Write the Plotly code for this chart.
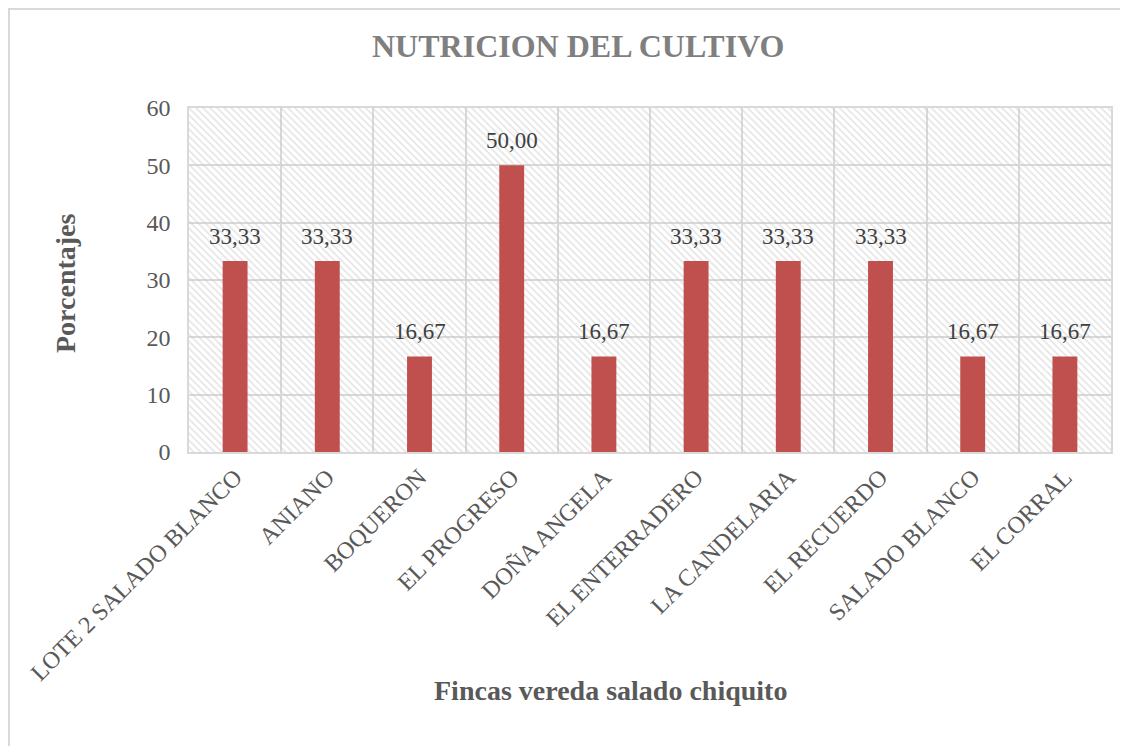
import plotly.graph_objects as go

categories = ["LOTE 2 SALADO BLANCO", "ANIANO", "BOQUERON", "EL PROGRESO", "DOÑA ANGELA",
              "EL ENTERRADERO", "LA CANDELARIA", "EL RECUERDO", "SALADO BLANCO", "EL CORRAL"]
values = [33.33, 33.33, 16.67, 50.00, 16.67, 33.33, 33.33, 33.33, 16.67, 16.67]
y_max = 60
title_text = "NUTRICION DEL CULTIVO"
x_title = "Fincas vereda salado chiquito"
y_title = "Porcentajes"

FONT = "Liberation Serif"
OFF = 8  # page body margin
W, H = 1120, 738
L, R, T, B = 181, 17, 100, 294
pw, ph = W - L - R, H - T - B

def px(x):
    return (x - OFF - L) / pw

def py(y):
    return (H - B - (y - OFF)) / ph

fig = go.Figure()
# hatched plot background
fig.add_trace(go.Bar(
    x=categories, y=[y_max] * len(categories), width=1,
    marker=dict(color="rgba(0,0,0,0)", line=dict(width=0),
                pattern=dict(shape="\\", fgcolor="#c8c8c8", bgcolor="rgba(0,0,0,0)",
                             size=5, solidity=0.3)),
    hoverinfo="skip", showlegend=False))
fig.add_trace(go.Bar(
    x=categories, y=values, width=0.27,
    marker=dict(color="#C0504D", line=dict(width=0)),
    showlegend=False))

annotations = [
    dict(x=c, y=v, xref="x", yref="y", text=f"{v:.2f}".replace(".", ","),
         showarrow=False, xanchor="center", yanchor="bottom", yshift=10,
         font=dict(family=FONT, size=23, color="#404040"))
    for c, v in zip(categories, values)
]
annotations += [
    dict(text="<b>" + title_text + "</b>", xref="paper", yref="paper",
         x=px(578), y=py(46), xanchor="center", yanchor="middle", showarrow=False,
         font=dict(family=FONT, size=32, color="#7f7f7f")),
    dict(text="<b>" + x_title + "</b>", xref="paper", yref="paper",
         x=px(610), y=py(690), xanchor="center", yanchor="middle", showarrow=False,
         font=dict(family=FONT, size=28, color="#595959")),
    dict(text="<b>" + y_title + "</b>", xref="paper", yref="paper", textangle=-90,
         x=px(65), y=py(283), xanchor="center", yanchor="middle", showarrow=False,
         font=dict(family=FONT, size=28, color="#595959")),
]

fig.update_layout(
    width=W, height=H, barmode="overlay", separators=",.",
    margin=dict(l=L, r=R, t=T, b=B),
    paper_bgcolor="white", plot_bgcolor="white",
    font=dict(family=FONT, color="#595959"),
    xaxis=dict(type="category", tickson="boundaries", showgrid=True, gridcolor="#d9d9d9",
               gridwidth=1.5, showline=True, linecolor="#d9d9d9", linewidth=1.5, mirror=True,
               ticks="", tickangle=-45, tickfont=dict(family=FONT, size=24, color="#595959"),
               range=[-0.5, len(categories) - 0.5]),
    yaxis=dict(range=[0, y_max], dtick=10, showgrid=True, gridcolor="#d9d9d9", gridwidth=1.5,
               showline=True, linecolor="#d9d9d9", linewidth=1.5, mirror=True, zeroline=False,
               ticks="", ticklabelstandoff=12,
               tickfont=dict(family=FONT, size=24, color="#595959")),
    annotations=annotations,
    shapes=[
        dict(type="line", xref="paper", yref="paper", x0=px(9), x1=px(9), y0=py(7), y1=py(760),
             line=dict(color="#d9d9d9", width=2)),
        dict(type="line", xref="paper", yref="paper", x0=px(8), x1=px(1140), y0=py(9), y1=py(9),
             line=dict(color="#d9d9d9", width=2)),
    ],
)

fig.write_html("out.html")
